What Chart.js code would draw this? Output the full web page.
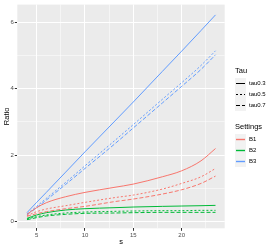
<!DOCTYPE html>
<html>
<head>
<meta charset="utf-8">
<script src="https://cdn.jsdelivr.net/npm/chart.js@4"></script>
<style>
    body { margin: 0; background: #fff; font-family: "Liberation Sans", Arial, sans-serif; }
    #wrap { position: relative; width: 272px; height: 249px; }
    .lg { position: absolute; color: #000; white-space: nowrap; }
    .lg-title { font-size: 7.5px; }
    .lg-row { position: absolute; left: 0; height: 11px; }
    .lg-row svg { position: absolute; left: 0; top: 0; }
    .lg-row span { position: absolute; left: 14px; top: 2px; font-size: 6px; line-height: 7px; }
</style>
</head>
<body>
<div id="wrap">
    <canvas id="chartRatio" width="272" height="249"></canvas>
    <div class="lg" style="left:235px; top:66px;">
        <div class="lg-title">Tau</div>
        <div id="legTau"></div>
    </div>
    <div class="lg" style="left:235px; top:122px;">
        <div class="lg-title">Settings</div>
        <div id="legSet"></div>
    </div>
</div>
<script>
// valores
const sVals = [4, 5, 6, 8, 10, 13, 15, 18, 20, 22, 23.5];

const b1Tau03 = [0.22, 0.42, 0.57, 0.75, 0.88, 1.03, 1.13, 1.35, 1.53, 1.83, 2.2];
const b1Tau05 = [0.18, 0.30, 0.38, 0.48, 0.58, 0.72, 0.80, 0.98, 1.15, 1.35, 1.6];
const b1Tau07 = [0.16, 0.24, 0.30, 0.39, 0.46, 0.60, 0.68, 0.83, 0.96, 1.15, 1.37];

const b2Tau03 = [0.10, 0.20, 0.27, 0.35, 0.39, 0.42, 0.44, 0.46, 0.47, 0.48, 0.49];
const b2Tau05 = [0.08, 0.15, 0.20, 0.26, 0.29, 0.31, 0.32, 0.33, 0.33, 0.34, 0.34];
const b2Tau07 = [0.06, 0.12, 0.17, 0.22, 0.25, 0.26, 0.27, 0.28, 0.28, 0.28, 0.28];

const b3Tau03 = [0.27, 0.58, 0.88, 1.49, 2.10, 3.00, 3.60, 4.52, 5.13, 5.75, 6.22];
const b3Tau05 = [0.23, 0.46, 0.70, 1.18, 1.68, 2.42, 2.92, 3.68, 4.18, 4.70, 5.14];
const b3Tau07 = [0.21, 0.42, 0.65, 1.12, 1.60, 2.32, 2.82, 3.57, 4.07, 4.58, 5.02];

const xTicks = [5, 7.5, 10, 12.5, 15, 17.5, 20, 22.5];
const xMajor = [5, 10, 15, 20];
const yTicks = [0, 1, 2, 3, 4, 5, 6];
const yMajor = [0, 2, 4, 6];

const tauLabels = ['tau0.3', 'tau0.5', 'tau0.7'];
const settingLabels = ['B1', 'B2', 'B3'];

const CORES = {
    B1: '#F8766D',
    B2: '#00BA38',
    B3: '#619CFF',
    painel: '#EBEBEB',
    chave: '#F2F2F2',
    texto: '#4D4D4D'
};
const TRACOS = { 'tau0.3': [], 'tau0.5': [2, 2], 'tau0.7': [4, 2] };

function serie(label, ys, cor, tau) {
    return {
        label: label + ' ' + tau,
        data: sVals.map((x, i) => ({ x: x, y: ys[i] })),
        borderColor: cor,
        borderWidth: 1,
        borderDash: TRACOS[tau],
        pointRadius: 0,
        fill: false,
        cubicInterpolationMode: 'monotone'
    };
}

// fundo cinza do painel
const fundoPainel = {
    id: 'fundoPainel',
    beforeDraw(chart) {
        const a = chart.chartArea;
        const c = chart.ctx;
        c.save();
        c.fillStyle = CORES.painel;
        c.fillRect(a.left, a.top, a.right - a.left, a.bottom - a.top);
        c.restore();
    }
};

const ctx = document.getElementById('chartRatio').getContext('2d');
new Chart(ctx, {
    type: 'line',
    data: {
        datasets: [
            serie('B1', b1Tau03, CORES.B1, 'tau0.3'),
            serie('B1', b1Tau05, CORES.B1, 'tau0.5'),
            serie('B1', b1Tau07, CORES.B1, 'tau0.7'),
            serie('B2', b2Tau03, CORES.B2, 'tau0.3'),
            serie('B2', b2Tau05, CORES.B2, 'tau0.5'),
            serie('B2', b2Tau07, CORES.B2, 'tau0.7'),
            serie('B3', b3Tau03, CORES.B3, 'tau0.3'),
            serie('B3', b3Tau05, CORES.B3, 'tau0.5'),
            serie('B3', b3Tau07, CORES.B3, 'tau0.7')
        ]
    },
    options: {
        responsive: false,
        animation: false,
        layout: { padding: { top: 3, right: 47.3, left: 0, bottom: 0 } },
        plugins: { legend: { display: false }, tooltip: { enabled: false } },
        scales: {
            x: {
                type: 'linear',
                min: 3.0,
                max: 24.45,
                afterBuildTicks: (axis) => { axis.ticks = xTicks.map(v => ({ value: v })); },
                afterFit: (axis) => { axis.height = 20.7; },
                border: { display: false },
                grid: {
                    color: '#FFFFFF',
                    lineWidth: (c) => xMajor.includes(c.tick.value) ? 1 : 0.5,
                    tickColor: (c) => xMajor.includes(c.tick.value) ? '#333333' : 'rgba(0,0,0,0)',
                    tickLength: 2.5
                },
                ticks: {
                    autoSkip: false,
                    maxRotation: 0,
                    padding: 1,
                    color: CORES.texto,
                    font: { size: 6, family: 'Liberation Sans' },
                    callback: (v) => xMajor.includes(v) ? String(v) : ''
                },
                title: {
                    display: true,
                    text: 's',
                    color: '#000',
                    font: { size: 7.5, family: 'Liberation Sans' },
                    padding: { top: 0, bottom: 3 }
                }
            },
            y: {
                type: 'linear',
                min: -0.2,
                max: 6.53,
                afterBuildTicks: (axis) => { axis.ticks = yTicks.map(v => ({ value: v })); },
                afterFit: (axis) => { axis.width = 17.3; },
                border: { display: false },
                grid: {
                    color: '#FFFFFF',
                    lineWidth: (c) => yMajor.includes(c.tick.value) ? 1 : 0.5,
                    tickColor: (c) => yMajor.includes(c.tick.value) ? '#333333' : 'rgba(0,0,0,0)',
                    tickLength: 2.5
                },
                ticks: {
                    autoSkip: false,
                    padding: 1,
                    color: CORES.texto,
                    font: { size: 6, family: 'Liberation Sans' },
                    callback: (v) => yMajor.includes(v) ? String(v) : ''
                },
                title: {
                    display: true,
                    text: 'Ratio',
                    color: '#000',
                    font: { size: 7.5, family: 'Liberation Sans' },
                    padding: { top: 2, bottom: 0 }
                }
            }
        }
    },
    plugins: [fundoPainel]
});

// ========== LEGENDA ==========
function chaveLinha(cor, dash, largura) {
    const d = dash.length ? ` stroke-dasharray="${dash.join(' ')}"` : '';
    return `<svg width="11" height="11"><rect width="11" height="11" fill="${CORES.chave}"/>` +
        `<line x1="1" y1="5.5" x2="10" y2="5.5" stroke="${cor}" stroke-width="${largura}"${d}/></svg>`;
}

function montarLegenda(id, labels, corFn, dashFn, largura) {
    const el = document.getElementById(id);
    el.style.position = 'relative';
    el.style.height = (labels.length * 11) + 'px';
    el.style.marginTop = '3px';
    labels.forEach((lab, i) => {
        const row = document.createElement('div');
        row.className = 'lg-row';
        row.style.top = (i * 11) + 'px';
        row.innerHTML = chaveLinha(corFn(lab), dashFn(lab), largura) + `<span>${lab}</span>`;
        el.appendChild(row);
    });
}

montarLegenda('legTau', tauLabels, () => '#000', (t) => TRACOS[t], 1);
montarLegenda('legSet', settingLabels, (b) => CORES[b], () => [], 1.4);
</script>
</body>
</html>
